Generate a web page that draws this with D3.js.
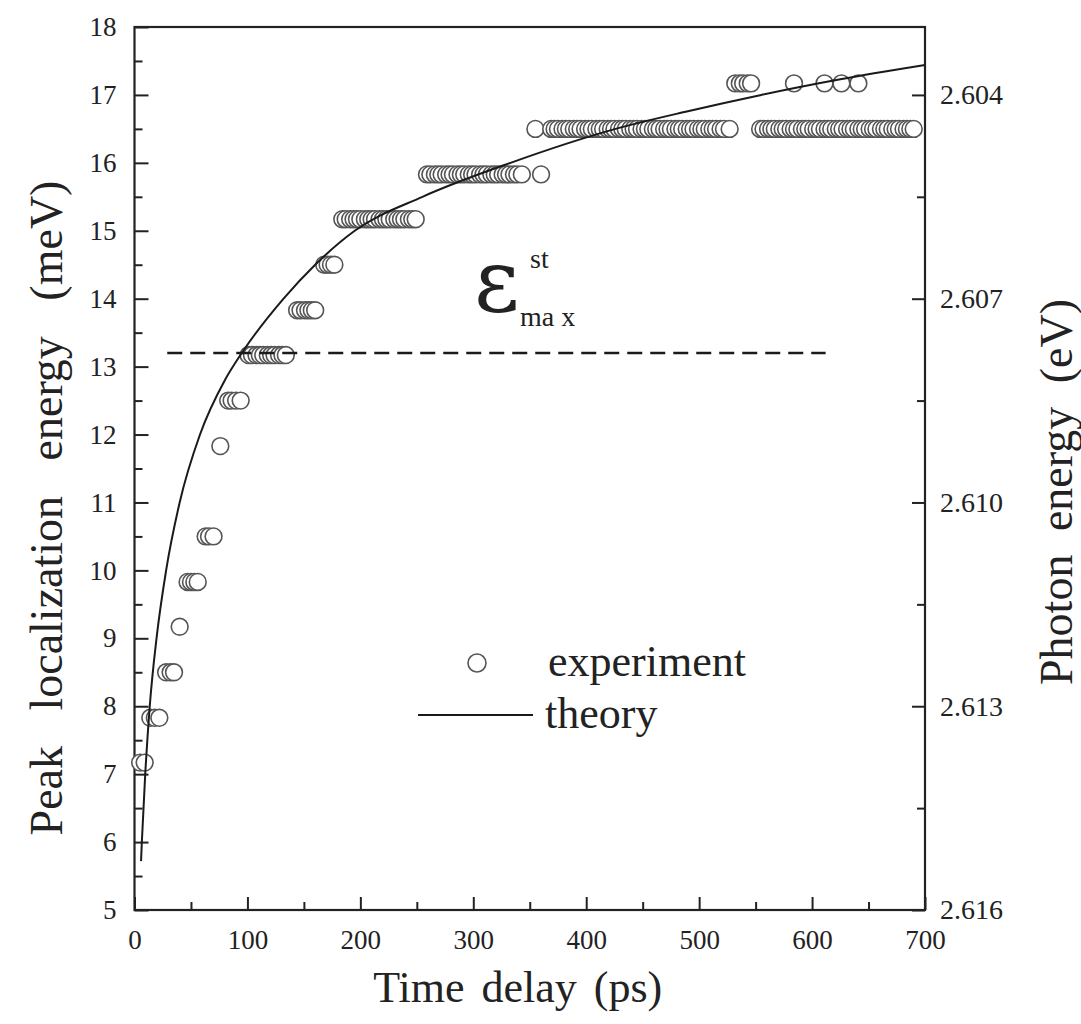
<!DOCTYPE html>
<html>
<head>
<meta charset="utf-8">
<script src="https://cdn.jsdelivr.net/npm/d3@7"></script>
<style>
  html, body { margin: 0; padding: 0; background: #fff; }
  svg { display: block; }
  text { font-family: "Liberation Serif", "Times New Roman", serif; fill: #222; }
</style>
</head>
<body>
<svg id="chart" width="1081" height="1024"></svg>
<script>
// Axis ticks
const timeMajorTicks = [0, 100, 200, 300, 400, 500, 600, 700];
const timeMinorTicks = [50, 150, 250, 350, 450, 550, 650];
const energyMajorTicks = [5, 6, 7, 8, 9, 10, 11, 12, 13, 14, 15, 16, 17, 18];
const energyMinorTicks = [5.5, 6.5, 7.5, 8.5, 9.5, 10.5, 11.5, 12.5, 13.5, 14.5, 15.5, 16.5, 17.5];
const photonMajorTicks = [2.604, 2.607, 2.610, 2.613, 2.616];
const photonMinorTicks = [2.6055, 2.6085, 2.6115, 2.6145];

// Measured peak localization energy (meV): quantized levels and the delays (ps) at each level
const expLevels = [7.17, 7.83, 8.5, 9.17, 9.83, 10.5, 11.83, 12.5, 13.17, 13.83, 14.5, 15.17, 15.83, 16.5, 17.17];
const expTimes = [
  [5, 9],
  [14, 18, 22],
  [28, 32, 35],
  [40],
  [47, 50, 53, 56],
  [63, 66, 70],
  [76],
  [83, 86, 90, 94],
  [101, 104, 108, 111, 114, 118, 121, 124, 128, 131, 134],
  [144, 147, 151, 154, 157, 160],
  [168, 171, 174, 177],
  [184, 187, 191, 194, 197, 200, 204, 207, 210, 213, 217, 220, 223, 226, 230, 233, 236, 239, 243, 246, 249],
  [259, 262, 266, 269, 272, 276, 279, 282, 286, 289, 292, 296, 299, 302, 306, 309, 312, 316, 319, 322, 326, 329, 332, 336, 339, 343, 360],
  [355, 369, 372, 375, 379, 382, 385, 389, 392, 395, 399, 402, 405, 409, 412, 415, 419, 422, 425, 429, 432, 435, 439, 442, 445, 449, 452, 455, 459, 462, 465, 469, 472, 475, 479, 482, 485, 489, 492, 495, 499, 502, 505, 509, 512, 515, 519, 522, 527,
   554, 557, 561, 564, 567, 571, 574, 577, 581, 584, 587, 591, 594, 597, 601, 604, 607, 611, 614, 617, 621, 624, 627, 631, 634, 637, 641, 644, 647, 651, 654, 657, 661, 664, 667, 671, 674, 677, 681, 684, 687, 690],
  [532, 536, 539, 543, 546, 584, 611, 626, 641]
];

// Theoretical curve (ps, meV)
const theoryTime = [5.8, 6.5, 9.5, 13.5, 19.5, 28, 40, 58, 80, 95, 132, 160, 195, 255, 333, 426, 490, 555, 625, 700];
const theoryEnergy = [5.72, 6.0, 7.0, 8.0, 9.0, 10.0, 11.0, 12.0, 12.8, 13.2, 14.0, 14.5, 15.0, 15.5, 16.0, 16.5, 16.76, 17.0, 17.23, 17.44];

// Saturation level marker
const stLevel = 13.2;
const stRange = [29, 612];

const svg = d3.select("#chart");
const plot = { left: 134.5, right: 925, top: 27, bottom: 910 };

const x = d3.scaleLinear().domain([0, 700]).range([plot.left, plot.right]);
const y = d3.scaleLinear().domain([5, 18]).range([plot.bottom, plot.top]);
// Photon energy = 2.621 eV - localization energy
const yEv = d3.scaleLinear().domain([2.616, 2.603]).range([plot.bottom, plot.top]);

const axisColor = "#222";

function styleAxis(g) {
  g.select(".domain").remove();
  g.selectAll(".tick line").attr("stroke", axisColor).attr("stroke-width", 2);
  g.selectAll(".tick text").attr("fill", axisColor).style("font-family", '"Liberation Serif", serif');
}

// Bottom axis
const gx = svg.append("g").attr("transform", `translate(0,${plot.bottom})`);
gx.call(d3.axisBottom(x).tickValues(timeMajorTicks).tickSize(-13).tickPadding(20).tickFormat(d3.format("d")))
  .call(styleAxis);
gx.selectAll(".tick text").style("font-size", "27px");
svg.append("g").attr("transform", `translate(0,${plot.bottom})`)
  .call(d3.axisBottom(x).tickValues(timeMinorTicks).tickSize(-8).tickFormat(""))
  .call(styleAxis);

// Left axis
const gy = svg.append("g").attr("transform", `translate(${plot.left},0)`);
gy.call(d3.axisLeft(y).tickValues(energyMajorTicks).tickSize(-14).tickPadding(18).tickFormat(d3.format("d")))
  .call(styleAxis);
gy.selectAll(".tick text").style("font-size", "27px");
svg.append("g").attr("transform", `translate(${plot.left},0)`)
  .call(d3.axisLeft(y).tickValues(energyMinorTicks).tickSize(-8).tickFormat(""))
  .call(styleAxis);

// Right axis (photon energy)
const gr = svg.append("g").attr("transform", `translate(${plot.right},0)`);
gr.call(d3.axisRight(yEv).tickValues(photonMajorTicks).tickSize(-13).tickPadding(15).tickFormat(d3.format(".3f")))
  .call(styleAxis);
gr.selectAll(".tick text").style("font-size", "28px");
svg.append("g").attr("transform", `translate(${plot.right},0)`)
  .call(d3.axisRight(yEv).tickValues(photonMinorTicks).tickSize(-8).tickFormat(""))
  .call(styleAxis);

// Frame
svg.append("rect")
  .attr("x", plot.left).attr("y", plot.top)
  .attr("width", plot.right - plot.left).attr("height", plot.bottom - plot.top)
  .attr("fill", "none").attr("stroke", axisColor).attr("stroke-width", 2.2);

// Experimental points
const expPoints = [];
expLevels.forEach((e, i) => expTimes[i].forEach(t => expPoints.push({ t, e })));
svg.append("g").selectAll("circle")
  .data(expPoints)
  .join("circle")
  .attr("cx", d => x(d.t))
  .attr("cy", d => y(d.e))
  .attr("r", 8.4)
  .attr("fill", "#fff")
  .attr("stroke", "#555")
  .attr("stroke-width", 1.6);

// Saturation level (dashed)
svg.append("line")
  .attr("x1", x(stRange[0])).attr("x2", x(stRange[1]))
  .attr("y1", y(stLevel)).attr("y2", y(stLevel))
  .attr("stroke", "#1a1a1a").attr("stroke-width", 2.5)
  .attr("stroke-dasharray", "15,8");

// Theory curve
const theory = theoryTime.map((t, i) => [t, theoryEnergy[i]]);
svg.append("path")
  .datum(theory)
  .attr("fill", "none")
  .attr("stroke", "#1a1a1a")
  .attr("stroke-width", 2)
  .attr("d", d3.line().x(d => x(d[0])).y(d => y(d[1])).curve(d3.curveMonotoneX));

// Annotation: epsilon^st_max
const ann = svg.append("g");
ann.append("text").attr("x", 474).attr("y", 311)
  .style("font-family", '"DejaVu Serif", serif').style("font-size", "88px").text("ε");
ann.append("text").attr("x", 530).attr("y", 268).style("font-size", "28px").text("st");
ann.append("text").attr("x", 520).attr("y", 326).style("font-size", "28px").text("ma x");

// Legend
const leg = svg.append("g");
leg.append("circle").attr("cx", 477).attr("cy", 663).attr("r", 9)
  .attr("fill", "#fff").attr("stroke", "#555").attr("stroke-width", 1.6);
leg.append("text").attr("x", 548).attr("y", 676).style("font-size", "44px").text("experiment");
leg.append("line").attr("x1", 418).attr("x2", 533).attr("y1", 715).attr("y2", 715)
  .attr("stroke", "#1a1a1a").attr("stroke-width", 2);
leg.append("text").attr("x", 545).attr("y", 728).style("font-size", "44px").text("theory");

// Axis titles
svg.append("text")
  .attr("x", (plot.left + plot.right) / 2 - 12).attr("y", 1002)
  .attr("text-anchor", "middle")
  .style("font-size", "44px").style("word-spacing", "6px")
  .text("Time delay (ps)");

svg.append("text")
  .attr("transform", "translate(62,508) rotate(-90)")
  .attr("text-anchor", "middle")
  .style("font-size", "46px").style("word-spacing", "24px")
  .text("Peak localization energy (meV)");

svg.append("text")
  .attr("transform", "translate(1072,492) rotate(-90)")
  .attr("text-anchor", "middle")
  .style("font-size", "46px").style("word-spacing", "12px")
  .text("Photon energy (eV)");
</script>
</body>
</html>
